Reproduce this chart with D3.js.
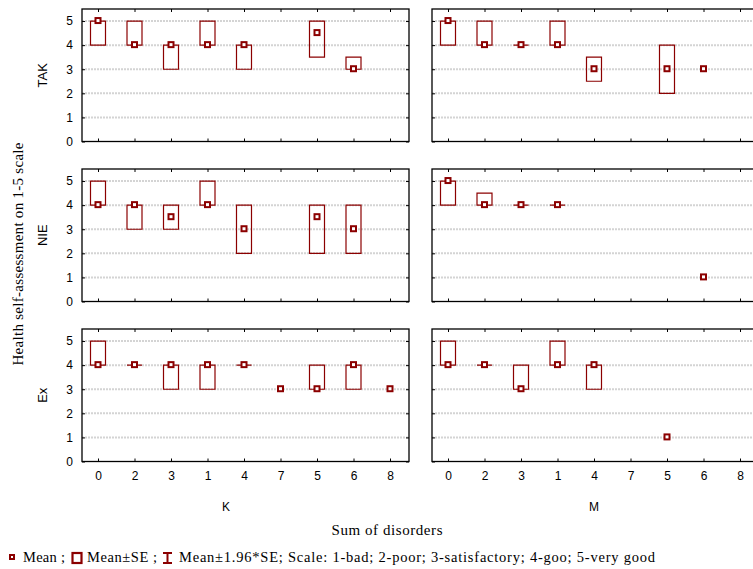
<!DOCTYPE html>
<html>
<head>
<meta charset="utf-8">
<script src="https://cdn.jsdelivr.net/npm/d3@7"></script>
<style>
  body { margin: 0; background: #fff; }
  svg { display: block; }
  .tick text { font-family: "Liberation Sans", Arial, sans-serif; font-size: 12px; fill: #000; }
</style>
</head>
<body>
<script>
// categories (sum of disorders, in the order they appear)
var categories = ["0", "2", "3", "1", "4", "7", "5", "6", "8"];
var rows = ["TAK", "NIE", "Ex"];
var cols = ["K", "M"];
var yTicks = [0, 1, 2, 3, 4, 5];

// mean / lower box / upper box, one array per panel (null = no data)
var takK_mean = [5, 4, 4, 4, 4, null, 4.5, 3, null];
var takK_lo   = [4, 4, 3, 4, 3, null, 3.5, 3, null];
var takK_hi   = [5, 5, 4, 5, 4, null, 5, 3.5, null];

var takM_mean = [5, 4, 4, 4, 3, null, 3, 3, null];
var takM_lo   = [4, 4, 4, 4, 2.5, null, 2, null, null];
var takM_hi   = [5, 5, 4, 5, 3.5, null, 4, null, null];

var nieK_mean = [4, 4, 3.5, 4, 3, null, 3.5, 3, null];
var nieK_lo   = [4, 3, 3, 4, 2, null, 2, 2, null];
var nieK_hi   = [5, 4, 4, 5, 4, null, 4, 4, null];

var nieM_mean = [5, 4, 4, 4, null, null, null, 1, null];
var nieM_lo   = [4, 4, 4, 4, null, null, null, null, null];
var nieM_hi   = [5, 4.5, 4, 4, null, null, null, null, null];

var exK_mean = [4, 4, 4, 4, 4, 3, 3, 4, 3];
var exK_lo   = [4, 4, 3, 3, 4, null, 3, 3, null];
var exK_hi   = [5, 4, 4, 4, 4, null, 4, 4, null];

var exM_mean = [4, 4, 3, 4, 4, null, 1, null, null];
var exM_lo   = [4, 4, 3, 4, 3, null, null, null, null];
var exM_hi   = [5, 4, 4, 5, 4, null, null, null, null];

var panels = [
  [[takK_mean, takK_lo, takK_hi], [takM_mean, takM_lo, takM_hi]],
  [[nieK_mean, nieK_lo, nieK_hi], [nieM_mean, nieM_lo, nieM_hi]],
  [[exK_mean, exK_lo, exK_hi], [exM_mean, exM_lo, exM_hi]]
];

var width = 753, height = 569;
var colLeft = [82, 432], panelW = 327;
var rowTop = [9, 169, 329], panelH = 132.5;
var red = "#8b0000";
var serif = "Liberation Serif, Times New Roman, serif";

var svg = d3.select("body").append("svg")
    .attr("width", width)
    .attr("height", height);

var x = d3.scalePoint().domain(categories).range([16, 308]);
var y = d3.scaleLinear().domain([0, 5.5]).range([panelH, 0]);

rows.forEach(function(rname, ri) {
  cols.forEach(function(cname, ci) {
    var g = svg.append("g")
        .attr("transform", "translate(" + colLeft[ci] + "," + rowTop[ri] + ")");

    // dotted grid
    g.selectAll("line.grid")
        .data(yTicks.filter(function(d) { return d > 0; }))
      .enter().append("line")
        .attr("class", "grid")
        .attr("x1", 0).attr("x2", panelW)
        .attr("y1", function(d) { return y(d); })
        .attr("y2", function(d) { return y(d); })
        .style("stroke", "#d4d4d4")
        .style("stroke-width", 2)
        .style("stroke-dasharray", "2,1");

    // inner ticks all round
    var yl = g.append("g").call(d3.axisLeft(y).tickValues(yTicks).tickSizeInner(-3).tickSizeOuter(0).tickFormat(ci == 0 ? d3.format("d") : ""));
    yl.selectAll("text").attr("x", -9);
    var yr = g.append("g").attr("transform", "translate(" + panelW + ",0)")
        .call(d3.axisRight(y).tickValues(yTicks).tickSizeInner(-3).tickSizeOuter(0).tickFormat(""));
    var xt = g.append("g").call(d3.axisTop(x).tickSizeInner(-3).tickSizeOuter(0).tickFormat(""));
    var xb = g.append("g").attr("transform", "translate(0," + panelH + ")")
        .call(d3.axisBottom(x).tickSizeInner(-3).tickSizeOuter(0).tickFormat(ri == 2 ? null : ""));
    xb.selectAll("text").attr("y", 10);
    [yl, yr, xt, xb].forEach(function(a) { a.select(".domain").remove(); });

    g.append("rect")
        .attr("width", panelW).attr("height", panelH)
        .style("fill", "none").style("stroke", "#000").style("stroke-width", 1.3);

    var d = panels[ri][ci];
    var pts = categories.map(function(c, i) {
      return { cat: c, mean: d[0][i], lo: d[1][i], hi: d[2][i] };
    });

    // Mean±SE boxes
    g.selectAll("path.box")
        .data(pts.filter(function(p) { return p.lo != null; }))
      .enter().append("path")
        .attr("class", "box")
        .attr("d", function(p) {
          var x0 = x(p.cat) - 7.5, x1 = x(p.cat) + 7.5;
          return "M" + x0 + "," + y(p.hi) + "H" + x1 + "V" + y(p.lo) + "H" + x0 + "Z";
        })
        .style("fill", "none").style("stroke", red).style("stroke-width", 1.2);

    // means
    g.selectAll("rect.mean")
        .data(pts.filter(function(p) { return p.mean != null; }))
      .enter().append("rect")
        .attr("class", "mean")
        .attr("x", function(p) { return x(p.cat) - 2.5; })
        .attr("y", function(p) { return y(p.mean) - 3; })
        .attr("width", 5).attr("height", 5)
        .style("fill", "#fff").style("stroke", red).style("stroke-width", 2);

    if (ci == 0) {
      svg.append("text")
          .attr("transform", "translate(47," + (rowTop[ri] + panelH / 2) + ") rotate(-90)")
          .attr("text-anchor", "middle")
          .style("font-family", "Liberation Sans, Arial, sans-serif")
          .style("font-size", "13px")
          .text(rname);
    }
    if (ri == 2) {
      svg.append("text")
          .attr("x", ci == 0 ? 226 : 594).attr("y", 511)
          .attr("text-anchor", "middle")
          .style("font-family", "Liberation Sans, Arial, sans-serif")
          .style("font-size", "12px")
          .text(cname);
    }
  });
});

svg.append("text")
    .attr("transform", "translate(23,254) rotate(-90)")
    .attr("text-anchor", "middle")
    .attr("textLength", 223)
    .style("font-family", serif)
    .style("font-size", "15px")
    .text("Health self-assessment on 1-5 scale");

svg.append("text")
    .attr("x", 387).attr("y", 535)
    .attr("text-anchor", "middle")
    .attr("textLength", 111)
    .style("font-family", serif)
    .style("font-size", "15px")
    .text("Sum of disorders");

// legend
var leg = svg.append("g").style("font-family", serif).style("font-size", "14.5px");
leg.append("rect").attr("x", 10).attr("y", 555).attr("width", 4).attr("height", 4)
    .style("fill", "#fff").style("stroke", red).style("stroke-width", 2);
leg.append("text").attr("x", 23).attr("y", 562).attr("textLength", 42).text("Mean ;");
leg.append("rect").attr("x", 72.5).attr("y", 553).attr("width", 9).attr("height", 10)
    .style("fill", "none").style("stroke", red).style("stroke-width", 2.2);
leg.append("text").attr("x", 87).attr("y", 562).attr("textLength", 70).text("Mean±SE ;");
leg.append("path").attr("d", "M163,553H172M167.5,553V563M163,563H172")
    .style("fill", "none").style("stroke", red).style("stroke-width", 2);
leg.append("text").attr("x", 179).attr("y", 562).attr("textLength", 476)
    .text("Mean±1.96*SE; Scale: 1-bad; 2-poor; 3-satisfactory; 4-goo; 5-very good");
</script>
</body>
</html>
